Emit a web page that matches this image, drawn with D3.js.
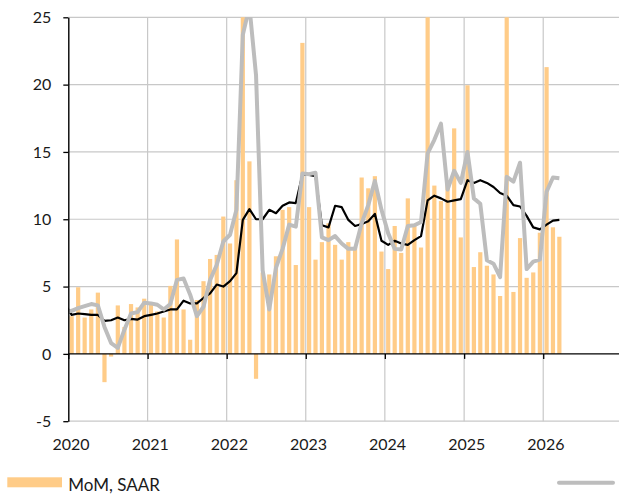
<!DOCTYPE html>
<html><head><meta charset="utf-8">
<script src="https://cdn.jsdelivr.net/npm/d3@7"></script>
<style>
body{margin:0;background:#fff}
text{font-family:Lato,"Open Sans",sans-serif;fill:#1a1a1a}
</style>
</head><body>
<svg id="chart" width="619" height="495"></svg>
<script>
// ---- data ----
// line series start Dec 2019; bars start Jan 2020
const lineStart = "2019-12";
const barStart = "2020-01";
const momSAAR = [
  2.8, 4.95, 2.7, 3.3, 4.55, -2.1, -0.2, 3.6, 2.0, 3.7, 3.45, 4.1,      // 2020
  3.65, 3.15, 2.7, 5.05, 8.5, 3.3, 1.05, 4.0, 5.4, 7.05, 7.35, 10.2,    // 2021
  8.2, 12.9, 50, 14.3, -1.85, 6.05, 5.9, 7.25, 10.7, 10.9, 6.6, 23.1,   // 2022
  10.9, 7.0, 8.3, 9.7, 8.1, 7.0, 8.3, 7.95, 13.1, 12.3, 13.2, 7.6,      // 2023
  6.3, 9.5, 7.5, 11.55, 9.5, 7.9, 27.5, 12.5, 11.35, 12.75, 16.75, 8.65,// 2024
  19.95, 6.45, 7.55, 6.55, 5.9, 4.3, 29, 4.6, 8.6, 5.65, 6.05, 9.0,     // 2025
  21.3, 9.4, 8.7                                                        // 2026
];
const avg3m = [
  3.1,                                                                  // Dec 2019
  3.2, 3.4, 3.55, 3.7, 3.6, 2.0, 0.8, 0.45, 1.8, 3.0, 3.1, 3.8,         // 2020
  3.75, 3.65, 3.3, 3.7, 5.5, 5.6, 4.4, 2.8, 3.5, 5.5, 6.6, 8.35,        // 2021
  8.85, 10.7, 23.7, 25.8, 20.7, 6.2, 3.3, 6.4, 7.8, 9.6, 9.45, 13.4,    // 2022
  13.35, 13.45, 8.65, 8.45, 8.75, 8.2, 7.8, 7.8, 9.7, 11.05, 12.85, 10.7,// 2023
  8.95, 7.8, 7.75, 9.5, 9.55, 9.8, 14.9, 15.9, 17.1, 12.2, 13.6, 12.7,  // 2024
  15.0, 11.55, 11.15, 6.95, 6.7, 5.7, 13.15, 12.8, 14.2, 6.3, 6.85, 7.0,// 2025
  12.05, 13.1, 13.05                                                    // 2026
];
const avg12m = [
  3.7,                                                                  // Dec 2019
  2.9, 3.0, 2.95, 2.9, 2.9, 2.45, 2.5, 2.7, 2.5, 2.6, 2.55, 2.8,        // 2020
  2.9, 3.0, 3.15, 3.3, 3.3, 3.95, 3.75, 3.75, 4.15, 4.5, 5.15, 5.0,     // 2021
  5.4, 6.0, 9.95, 10.75, 10.0, 10.0, 10.7, 10.45, 11.0, 11.25, 11.2, 13.3,// 2022
  13.3, 13.2, 9.55, 9.4, 11.0, 10.9, 9.95, 9.5, 9.65, 9.85, 10.4, 8.4,  // 2023
  8.1, 8.4, 8.2, 8.1, 8.45, 8.75, 11.4, 11.75, 11.55, 11.3, 11.4, 11.5, // 2024
  12.9, 12.7, 12.9, 12.7, 12.4, 11.95, 11.75, 11.05, 10.95, 10.25, 9.4, 9.25,// 2025
  9.6, 9.9, 9.95                                                        // 2026
];
const yTicks = [-5, 0, 5, 10, 15, 20, 25];
const yearLabels = ["2020", "2021", "2022", "2023", "2024", "2025", "2026"];
const legendLabel = "MoM, SAAR";

// ---- chart ----
const W = 619, H = 495;
const svg = d3.select("#chart");
const parse = d3.timeParse("%Y-%m");
const x = d3.scaleTime().domain([parse("2020-01"), parse("2027-01")]).range([68.3, 622.3]);
const y = d3.scaleLinear().domain([-5, 25]).range([421.2, 17.3]);
const mid = d => new Date((+d + +d3.timeMonth.offset(d, 1)) / 2);

const barMonths = momSAAR.map((v, i) => d3.timeMonth.offset(parse(barStart), i));
const lineMonths = avg3m.map((v, i) => d3.timeMonth.offset(parse(lineStart), i));
const years = yearLabels.map(s => parse(s + "-01"));

svg.append("defs").append("clipPath").attr("id", "plot")
  .append("rect").attr("x", x.range()[0]).attr("y", y(25))
  .attr("width", W - x.range()[0]).attr("height", y(-5) - y(25));

// gridlines
const grid = svg.append("g").attr("stroke", "#c8c8c8").attr("stroke-width", 1.2);
grid.selectAll(".h").data(yTicks.filter(t => t !== 0)).join("line")
  .attr("x1", x.range()[0]).attr("x2", W).attr("y1", d => y(d)).attr("y2", d => y(d));
grid.selectAll(".v").data(years.slice(1)).join("line")
  .attr("x1", d => x(d)).attr("x2", d => x(d)).attr("y1", y(25)).attr("y2", y(-5));

const plot = svg.append("g").attr("clip-path", "url(#plot)");
const bw = 4.2;
plot.selectAll("rect.bar").data(momSAAR).join("rect").attr("class", "bar")
  .attr("x", (d, i) => x(mid(barMonths[i])) - bw / 2)
  .attr("width", bw)
  .attr("y", d => y(Math.max(0, d)))
  .attr("height", d => Math.abs(y(d) - y(0)))
  .attr("fill", "#ffcc88");

// zero axis & left axis
svg.append("line").attr("x1", x.range()[0]).attr("x2", W).attr("y1", y(0)).attr("y2", y(0))
  .attr("stroke", "#000").attr("stroke-width", 1.4);
svg.append("g").attr("transform", `translate(0,${y(0)})`)
  .call(d3.axisBottom(x).tickValues(years).tickSize(5).tickFormat(""))
  .call(g => { g.select(".domain").remove(); g.selectAll("line").attr("stroke", "#000").attr("stroke-width", 1.3); });
svg.append("g").attr("transform", `translate(${x.range()[0]},0)`)
  .call(d3.axisLeft(y).tickValues(yTicks).tickSize(5).tickSizeOuter(0).tickPadding(12).tickFormat(d => String(d)))
  .call(g => {
    g.select(".domain").attr("stroke", "#000").attr("stroke-width", 1.4);
    g.selectAll("line").attr("stroke", "#000").attr("stroke-width", 1.3);
    g.selectAll("text").attr("font-size", 16).attr("font-family", null).style("fill", "#1a1a1a");
  });

// lines
const lineGen = d3.line().x((d, i) => x(mid(lineMonths[i]))).y(d => y(d));
plot.append("path").datum(avg12m).attr("d", lineGen)
  .attr("fill", "none").attr("stroke", "#000").attr("stroke-width", 2.2).attr("stroke-linejoin", "round");
plot.append("path").datum(avg3m).attr("d", lineGen)
  .attr("fill", "none").attr("stroke", "#bdbdbd").attr("stroke-width", 4).attr("stroke-linejoin", "round");

// year labels
svg.append("g").selectAll("text").data(years).join("text")
  .attr("x", d => x(d) + 2.7).attr("y", 450).attr("text-anchor", "middle")
  .attr("font-size", 16).text((d, i) => yearLabels[i]);

// legend
svg.append("rect").attr("x", 7.3).attr("y", 477.3).attr("width", 54.7).attr("height", 10).attr("fill", "#ffcc88");
svg.append("text").attr("x", 68.3).attr("y", 490.7).attr("font-size", 17).text(legendLabel);
svg.append("line").attr("x1", 559).attr("x2", 613).attr("y1", 482.7).attr("y2", 482.7)
  .attr("stroke", "#bdbdbd").attr("stroke-width", 4).attr("stroke-linecap", "round");
</script>
</body></html>
